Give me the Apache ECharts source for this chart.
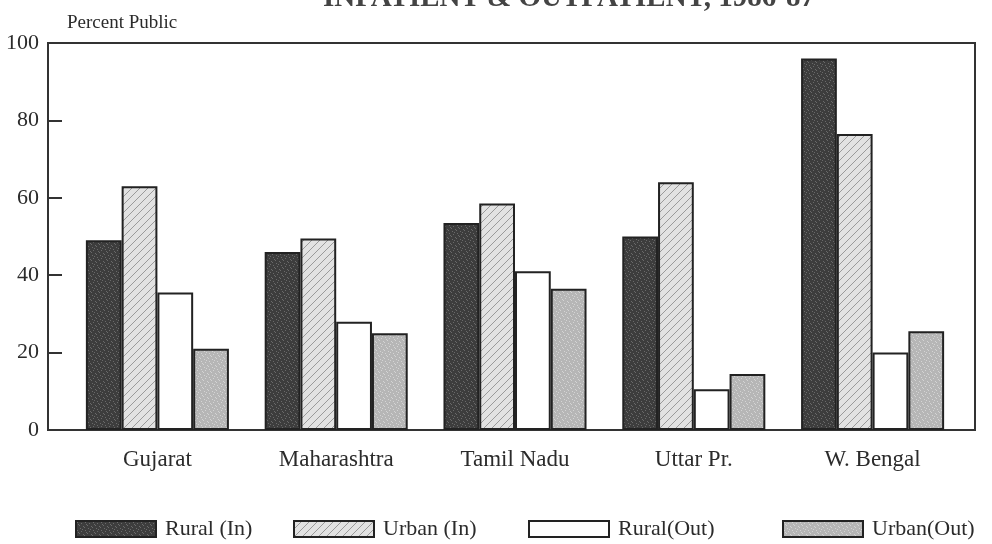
<!DOCTYPE html>
<html>
<head>
<meta charset="utf-8">
<script src="https://cdn.jsdelivr.net/npm/echarts@6/dist/echarts.min.js"></script>
<style>
  html, body { margin: 0; padding: 0; background: #fff; }
  #chart { width: 992px; height: 544px; }
</style>
</head>
<body>
<div id="chart"></div>
<script>
// data
var states = ["Gujarat", "Maharashtra", "Tamil Nadu", "Uttar Pr.", "W. Bengal"];
var ruralIn = [49, 46, 53.5, 50, 96];
var urbanIn = [63, 49.5, 58.5, 64, 76.5];
var ruralOut = [35.5, 28, 41, 10.5, 20];
var urbanOut = [21, 25, 36.5, 14.5, 25.5];
var yTicks = [0, 20, 40, 60, 80, 100];

var serif = "Liberation Serif, Times New Roman, serif";
var ink = "#2b2b2b";

// small fill textures to mimic the print screens
function makePattern(bg, dots, hatch) {
  var c = document.createElement("canvas");
  c.width = 8;
  c.height = 8;
  var ctx = c.getContext("2d");
  ctx.fillStyle = bg;
  ctx.fillRect(0, 0, 8, 8);
  if (hatch) {
    ctx.strokeStyle = hatch;
    ctx.lineWidth = 1;
    ctx.beginPath();
    ctx.moveTo(0, 8); ctx.lineTo(8, 0);
    ctx.moveTo(-4, 4); ctx.lineTo(4, -4);
    ctx.moveTo(4, 12); ctx.lineTo(12, 4);
    ctx.stroke();
  }
  if (dots) {
    ctx.fillStyle = dots;
    [[1, 1], [5, 2], [3, 4], [7, 5], [0, 6], [4, 7], [6, 0], [2, 3]].forEach(function (p) {
      ctx.fillRect(p[0], p[1], 1, 1);
    });
  }
  return { image: c, repeat: "repeat" };
}

var fillRuralIn = makePattern("#3d3d3d", "#6a6a6a");
var fillUrbanIn = makePattern("#e2e2e2", null, "#9a9a9a");
var fillRuralOut = "#ffffff";
var fillUrbanOut = makePattern("#b6b6b6", "#d4d4d4");

function barSeries(name, data, fill) {
  return {
    name: name,
    type: "bar",
    xAxisIndex: 1,
    yAxisIndex: 1,
    data: data,
    barGap: "0%",
    barCategoryGap: "20%",
    itemStyle: { color: fill, borderColor: "#222", borderWidth: 2 },
    emphasis: { disabled: true }
  };
}

function legendAt(name, left) {
  return {
    data: [name],
    icon: "rect",
    left: left,
    top: 513,
    itemWidth: 80,
    itemHeight: 16,
    textStyle: { fontFamily: serif, fontSize: 22, color: ink, padding: [0, 0, 0, 4] }
  };
}

var chart = echarts.init(document.getElementById("chart"));
chart.setOption({
  animation: false,
  backgroundColor: "#ffffff",
  title: [
    {
      text: "INPATIENT & OUTPATIENT, 1986-87",
      left: 318,
      top: -21,
      textStyle: { fontFamily: serif, fontSize: 29, fontWeight: "bold", color: "#444" }
    },
    {
      text: "Percent Public",
      left: 62,
      top: 9,
      textStyle: { fontFamily: serif, fontSize: 19, fontWeight: "normal", color: ink }
    }
  ],
  legend: [
    legendAt("Rural (In)", 70),
    legendAt("Urban (In)", 288),
    legendAt("Rural(Out)", 523),
    legendAt("Urban(Out)", 777)
  ],
  grid: [
    // frame with the value axis
    { left: 48, right: 17, top: 43, bottom: 114, show: true, borderColor: "#333", borderWidth: 2 },
    // bars sit a bit inside the frame
    { left: 68, right: 30, top: 43, bottom: 114 }
  ],
  xAxis: [
    { gridIndex: 0, type: "category", data: states, show: false },
    {
      gridIndex: 1,
      type: "category",
      data: states,
      axisLine: { show: false },
      axisTick: { show: false },
      axisLabel: { fontFamily: serif, fontSize: 23, color: ink, margin: 18 }
    }
  ],
  yAxis: [
    {
      gridIndex: 0,
      type: "value",
      min: yTicks[0],
      max: yTicks[yTicks.length - 1],
      interval: 20,
      axisLine: { show: true, lineStyle: { color: "#333", width: 2 } },
      axisTick: { show: true, inside: true, length: 14, lineStyle: { color: "#333", width: 2 } },
      splitLine: { show: false },
      axisLabel: { fontFamily: serif, fontSize: 22, color: ink, margin: 9 }
    },
    { gridIndex: 1, type: "value", min: 0, max: 100, show: false }
  ],
  series: [
    barSeries("Rural (In)", ruralIn, fillRuralIn),
    barSeries("Urban (In)", urbanIn, fillUrbanIn),
    barSeries("Rural(Out)", ruralOut, fillRuralOut),
    barSeries("Urban(Out)", urbanOut, fillUrbanOut)
  ]
});
</script>
</body>
</html>
